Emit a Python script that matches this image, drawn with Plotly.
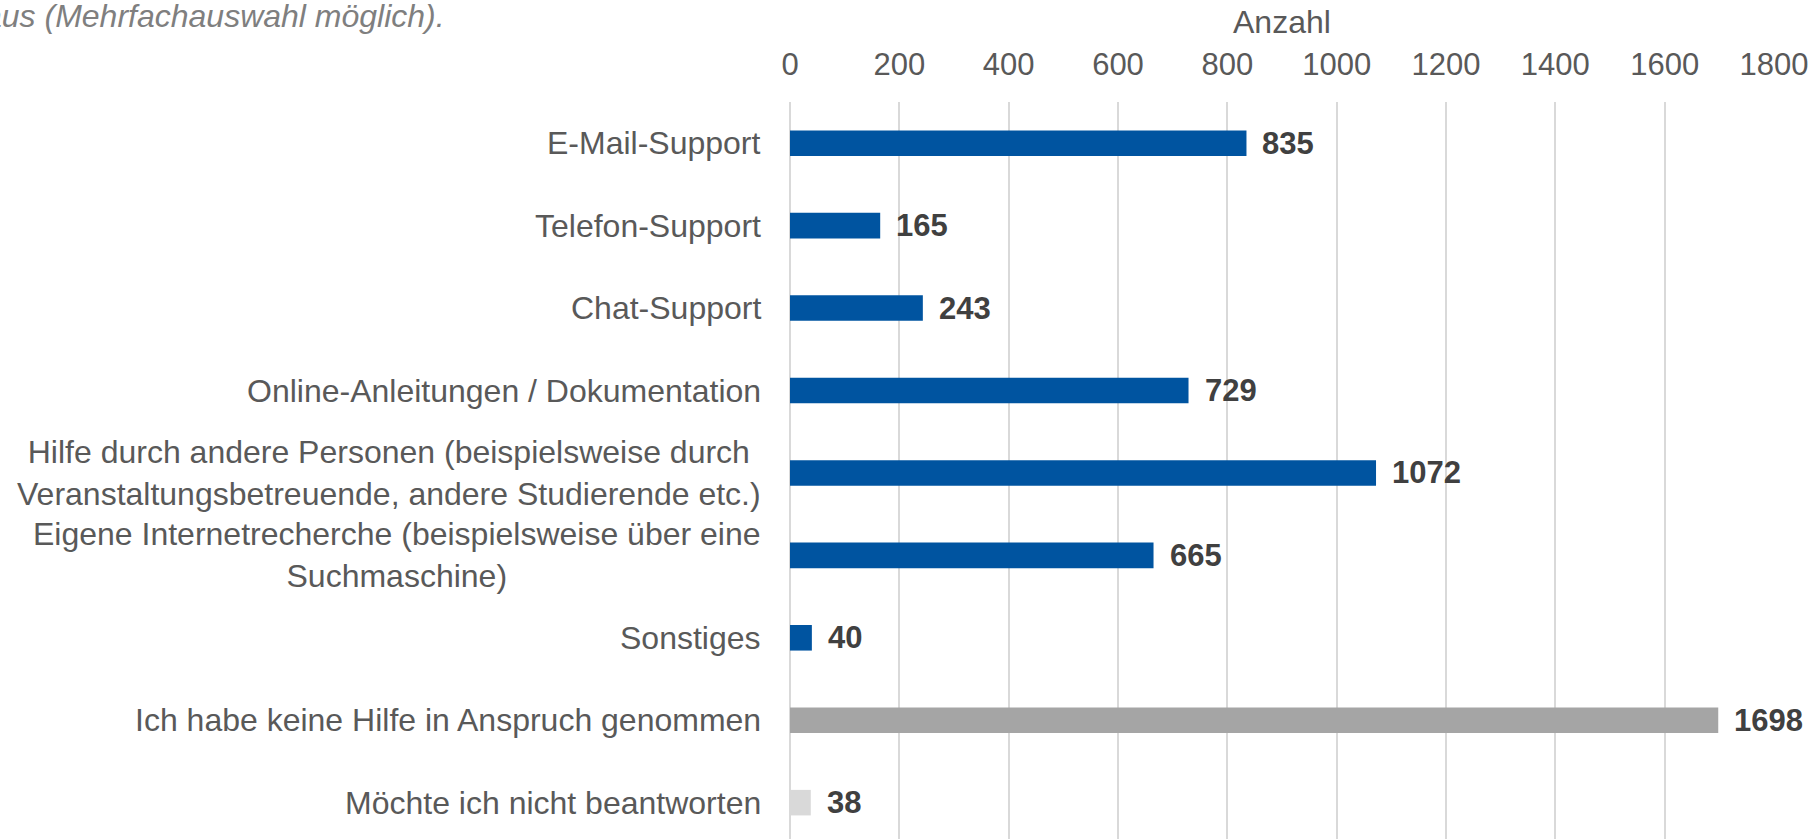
import plotly.graph_objects as go

categories = [
    "E-Mail-Support",
    "Telefon-Support",
    "Chat-Support",
    "Online-Anleitungen / Dokumentation",
    "Hilfe durch andere Personen (beispielsweise durch<br>Veranstaltungsbetreuende, andere Studierende etc.)",
    "Eigene Internetrecherche (beispielsweise über eine<br>Suchmaschine)",
    "Sonstiges",
    "Ich habe keine Hilfe in Anspruch genommen",
    "Möchte ich nicht beantworten",
]
values = [835, 165, 243, 729, 1072, 665, 40, 1698, 38]
bar_colors = ["#0054A0"] * 7 + ["#A5A5A5", "#D9D9D9"]
tick_vals = [0, 200, 400, 600, 800, 1000, 1200, 1400, 1600, 1800]
x_title = "Anzahl"
subtitle = "aus (Mehrfachauswahl möglich)."

FONT = "Liberation Sans, Arial, sans-serif"
W, H = 1817, 839
ML, MR, MT, MB = 790, 43, 102, 0
plot_w = W - ML - MR
plot_h = H - MT - MB

fig = go.Figure()
fig.add_trace(go.Bar(
    x=values, y=categories, orientation="h",
    marker=dict(color=bar_colors, line=dict(width=0)),
    hoverinfo="x+y",
))

# data labels
for c, v in zip(categories, values):
    fig.add_annotation(x=v, y=c, xref="x", yref="y", text=f"<b>{v}</b>",
                       showarrow=False, xanchor="left", yanchor="middle",
                       xshift=14, font=dict(family=FONT, size=31, color="#404040"))

# category labels (centered multi-line)
for c in categories:
    fig.add_annotation(x=0, y=c, xref="paper", yref="y", text=c,
                       showarrow=False, xanchor="right", yanchor="middle",
                       align="center", xshift=-27,
                       font=dict(family=FONT, size=32, color="#595959"))

def px_to_paper_y(py):
    return (H - MB - py) / plot_h

def px_to_paper_x(px):
    return (px - ML) / plot_w

fig.add_annotation(x=0.5, y=px_to_paper_y(22), xref="paper", yref="paper",
                   text=x_title, showarrow=False, xanchor="center", yanchor="middle",
                   font=dict(family=FONT, size=32, color="#595959"))
fig.add_annotation(x=px_to_paper_x(447), y=px_to_paper_y(16), xref="paper", yref="paper",
                   text=f"<i>{subtitle}</i>", showarrow=False, xanchor="right", yanchor="middle",
                   font=dict(family=FONT, size=32, color="#7F7F7F"))

band = 82.43
span = plot_h / band

fig.update_layout(
    width=W, height=H,
    margin=dict(l=ML, r=MR, t=MT, b=MB, pad=0),
    paper_bgcolor="white", plot_bgcolor="white",
    bargap=0.69, showlegend=False,
    font=dict(family=FONT, size=31, color="#595959"),
    xaxis=dict(side="top", range=[0, 1800], tickvals=tick_vals,
               showgrid=True, gridcolor="#D9D9D9", gridwidth=1.5,
               zeroline=True, zerolinecolor="#D9D9D9", zerolinewidth=1.5,
               showline=False, ticks="outside", ticklen=14, tickcolor="rgba(0,0,0,0)",
               tickfont=dict(family=FONT, size=31, color="#595959"), fixedrange=True),
    yaxis=dict(type="category", categoryorder="array", categoryarray=categories,
               range=[-0.5 + span, -0.5], showticklabels=False, showgrid=False,
               zeroline=False, showline=False, ticks="", fixedrange=True),
)

fig.write_html(
    "out.html",
    config={"displayModeBar": False},
    post_script="document.body.style.margin='0';document.body.style.overflow='hidden';"
                "document.documentElement.style.overflow='hidden';",
)
